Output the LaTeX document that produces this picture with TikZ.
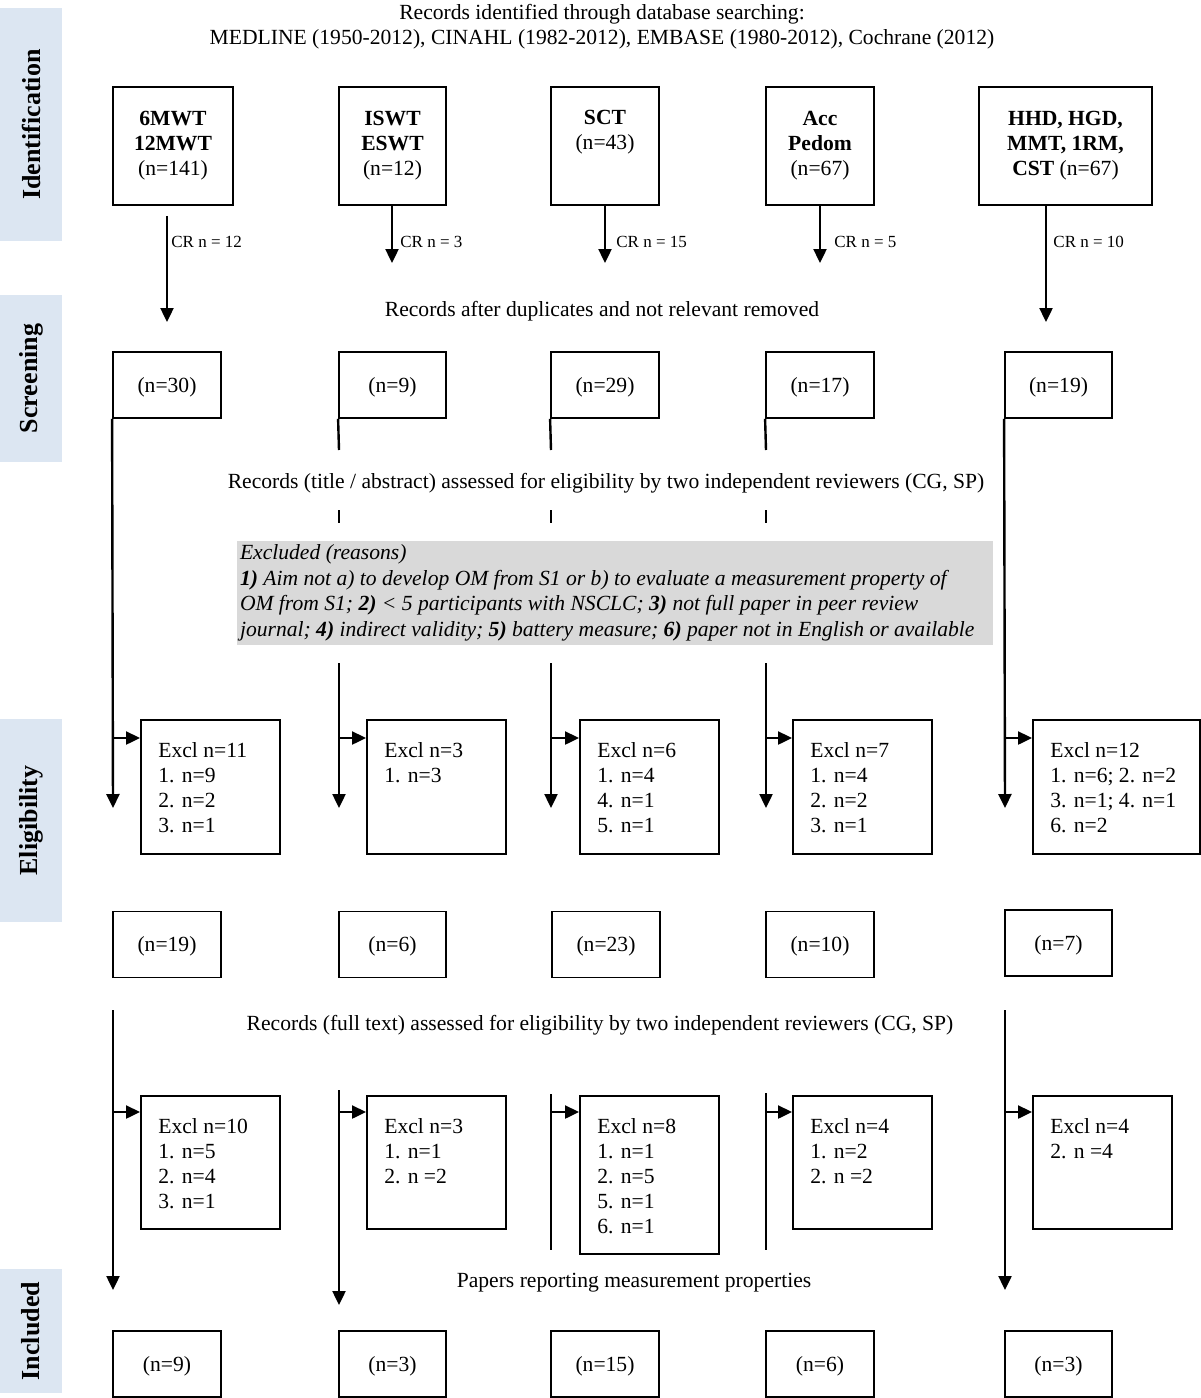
\documentclass[tikz,border=0pt]{standalone}
\usepackage{fontspec}
\setmainfont{Liberation Serif}
\usetikzlibrary{arrows.meta}
\definecolor{stageblue}{HTML}{DCE6F2}
\definecolor{reasongray}{HTML}{D9D9D9}
\begin{document}
\begin{tikzpicture}[x=0.5pt, y=-0.5pt,
    font=\fontsize{10.8}{12.5}\selectfont,
    >={Triangle[length=7pt, width=6.5pt]},
    stage/.style={fill=stageblue, rotate=90, minimum height=31pt, inner sep=0pt, font=\bfseries\fontsize{13}{15}\selectfont},
    box/.style={draw, line width=0.9pt, minimum height=33pt, inner sep=0pt, text height=9pt, text depth=1.8pt},
    tall/.style={draw, line width=0.9pt, minimum height=59pt, inner sep=0pt, align=center},
    excl/.style={draw, line width=0.9pt, anchor=north west, minimum width=69.5pt, minimum height=67pt, inner sep=0pt},
    excltext/.style={anchor=north west, align=left, inner sep=0pt},
    cr/.style={anchor=west, inner sep=0pt, font=\fontsize{8.5}{10}\selectfont},
    flow/.style={line width=1.2pt},
    arr/.style={flow, ->}]

    \useasboundingbox (0,0) rectangle (1200,1398);

    \node [stage, minimum width=116.5pt] (sid) at (31,124.5) {Identification};
    \node [stage, minimum width=83.5pt] (ssc) at (31,378.5) {Screening};
    \node [stage, minimum width=101.5pt] (sel) at (31,820.5) {Eligibility};
    \node [stage, minimum width=62pt] (sin) at (31,1331) {Included};

    \node [align=center] (search) at (602,26.5) {Records identified through database searching:\\MEDLINE (1950-2012), CINAHL (1982-2012), EMBASE (1980-2012), Cochrane (2012)};

    \node [tall, minimum width=60pt] (t1) at (173,146) {\textbf{6MWT}\\\textbf{12MWT}\\(n=141)};
    \node [tall, minimum width=53.5pt] (t2) at (392.5,146) {\textbf{ISWT}\\\textbf{ESWT}\\(n=12)};
    \node [tall, minimum width=54pt] (t3) at (605,146) {\textbf{SCT}\\(n=43)\\\strut};
    \node [tall, minimum width=54pt] (t4) at (820,146) {\textbf{Acc}\\\textbf{Pedom}\\(n=67)};
    \node [tall, minimum width=86.5pt] (t5) at (1065.5,146) {\textbf{HHD, HGD,}\\\textbf{MMT, 1RM,}\\\textbf{CST} (n=67)};

    \coordinate (c1) at (167,322);
    \coordinate (c2) at (392,263);
    \coordinate (c3) at (605,263);
    \coordinate (c4) at (820,263);
    \coordinate (c5) at (1046,322);
    \draw [arr, shorten <=5pt] (t1.south -| c1) -- (c1);
    \draw [arr] (t2.south -| c2) -- (c2);
    \draw [arr] (t3.south -| c3) -- (c3);
    \draw [arr] (t4.south -| c4) -- (c4);
    \draw [arr] (t5.south -| c5) -- (c5);

    \node [cr] (cr1) at (171,242) {CR n = 12};
    \node [cr] (cr2) at (400,242) {CR n = 3};
    \node [cr] (cr3) at (616,242) {CR n = 15};
    \node [cr] (cr4) at (834,242) {CR n = 5};
    \node [cr] (cr5) at (1053,242) {CR n = 10};

    \node (dup) at (602,311) {Records after duplicates and not relevant removed};

    \node [box, minimum width=54pt] (s1) at (167,385) {(n=30)};
    \node [box, minimum width=53.5pt] (s2) at (392.5,385) {(n=9)};
    \node [box, minimum width=54pt] (s3) at (605,385) {(n=29)};
    \node [box, minimum width=54pt] (s4) at (820,385) {(n=17)};
    \node [box, minimum width=53.5pt] (s5) at (1058.5,385) {(n=19)};

    \node (title) at (606,483) {Records (title / abstract) assessed for eligibility by two independent reviewers (CG, SP)};

    \node [fill=reasongray, text width=375pt, inner xsep=1.5pt, inner ysep=0.5pt, minimum height=52pt, align=flush left, font=\itshape\fontsize{10.8}{12.8}\selectfont] (reasons) at (615,593) {\mbox{Excluded (reasons)}\\\mbox{\textbf{1)} Aim not a) to develop OM from S1 or b) to evaluate a measurement property of}\\\mbox{OM from S1; \textbf{2)} < 5 participants with NSCLC; \textbf{3)} not full paper in peer review}\\\mbox{journal; \textbf{4)} indirect validity; \textbf{5)} battery measure; \textbf{6)} paper not in English or available}};

    \coordinate (v1) at (113,808);
    \coordinate (v2a) at (339,450);
    \coordinate (v2b) at (339,510);
    \coordinate (v2c) at (339,523);
    \coordinate (v2d) at (339,663);
    \coordinate (v2) at (339,808);
    \coordinate (v3a) at (551,450);
    \coordinate (v3b) at (551,510);
    \coordinate (v3c) at (551,523);
    \coordinate (v3d) at (551,663);
    \coordinate (v3) at (551,808);
    \coordinate (v4a) at (766,450);
    \coordinate (v4b) at (766,510);
    \coordinate (v4c) at (766,523);
    \coordinate (v4d) at (766,663);
    \coordinate (v4) at (766,808);
    \coordinate (v5) at (1005,808);

    \draw [arr] (s1.south west) -- (v1);
    \draw [flow] (s2.south west) -- (v2a);
    \draw [flow] (v2b) -- (v2c);
    \draw [arr] (v2d) -- (v2);
    \draw [flow] (s3.south west) -- (v3a);
    \draw [flow] (v3b) -- (v3c);
    \draw [arr] (v3d) -- (v3);
    \draw [flow] (s4.south west) -- (v4a);
    \draw [flow] (v4b) -- (v4c);
    \draw [arr] (v4d) -- (v4);
    \draw [arr] (s5.south west) -- (v5);

    \node [excl] (e1) at (140,719) {};
    \node [excl] (e2) at (366,719) {};
    \node [excl] (e3) at (579,719) {};
    \node [excl] (e4) at (792,719) {};
    \node [excl, minimum width=83.5pt] (e5) at (1032,719) {};
    \node [excltext] (e1t) at ([shift={(18,23)}]e1.north west) {Excl n=11\\1. n=9\\2. n=2\\3. n=1};
    \node [excltext] (e2t) at ([shift={(18,23)}]e2.north west) {Excl n=3\\1. n=3};
    \node [excltext] (e3t) at ([shift={(18,23)}]e3.north west) {Excl n=6\\1. n=4\\4. n=1\\5. n=1};
    \node [excltext] (e4t) at ([shift={(18,23)}]e4.north west) {Excl n=7\\1. n=4\\2. n=2\\3. n=1};
    \node [excltext] (e5t) at ([shift={(18,23)}]e5.north west) {Excl n=12\\1. n=6; 2. n=2\\3. n=1; 4. n=1\\6. n=2};

    \coordinate (h1) at (113,738);
    \coordinate (h2) at (339,738);
    \coordinate (h3) at (551,738);
    \coordinate (h4) at (766,738);
    \coordinate (h5) at (1005,738);
    \draw [arr] (h1) -- (h1 -| e1.west);
    \draw [arr] (h2) -- (h2 -| e2.west);
    \draw [arr] (h3) -- (h3 -| e3.west);
    \draw [arr] (h4) -- (h4 -| e4.west);
    \draw [arr] (h5) -- (h5 -| e5.west);

    \node [box, minimum width=54pt] (f1) at (167,944.5) {(n=19)};
    \node [box, minimum width=53.5pt] (f2) at (392.5,944.5) {(n=6)};
    \node [box, minimum width=54pt] (f3) at (606,944.5) {(n=23)};
    \node [box, minimum width=54pt] (f4) at (820,944.5) {(n=10)};
    \node [box, minimum width=53.5pt] (f5) at (1058.5,943) {(n=7)};

    \node (full) at (600,1025) {Records (full text) assessed for eligibility by two independent reviewers (CG, SP)};

    \coordinate (w1a) at (113,1010);
    \coordinate (w1) at (113,1290);
    \coordinate (w2a) at (339,1090);
    \coordinate (w2) at (339,1305);
    \coordinate (w3a) at (551,1094);
    \coordinate (w3) at (551,1250);
    \coordinate (w4a) at (766,1093);
    \coordinate (w4) at (766,1250);
    \coordinate (w5a) at (1005,1010);
    \coordinate (w5) at (1005,1290);
    \draw [arr] (w1a) -- (w1);
    \draw [arr] (w2a) -- (w2);
    \draw [flow] (w3a) -- (w3);
    \draw [flow] (w4a) -- (w4);
    \draw [arr] (w5a) -- (w5);

    \node [excl, minimum height=66.5pt] (g1) at (140,1095) {};
    \node [excl, minimum height=66.5pt] (g2) at (366,1095) {};
    \node [excl, minimum height=79pt] (g3) at (579,1095) {};
    \node [excl, minimum height=66.5pt] (g4) at (792,1095) {};
    \node [excl, minimum height=66.5pt] (g5) at (1032,1095) {};
    \node [excltext] (g1t) at ([shift={(18,23)}]g1.north west) {Excl n=10\\1. n=5\\2. n=4\\3. n=1};
    \node [excltext] (g2t) at ([shift={(18,23)}]g2.north west) {Excl n=3\\1. n=1\\2. n =2};
    \node [excltext] (g3t) at ([shift={(18,23)}]g3.north west) {Excl n=8\\1. n=1\\2. n=5\\5. n=1\\6. n=1};
    \node [excltext] (g4t) at ([shift={(18,23)}]g4.north west) {Excl n=4\\1. n=2\\2. n =2};
    \node [excltext] (g5t) at ([shift={(18,23)}]g5.north west) {Excl n=4\\2. n =4};

    \coordinate (k1) at (113,1112);
    \coordinate (k2) at (339,1112);
    \coordinate (k3) at (551,1112);
    \coordinate (k4) at (766,1112);
    \coordinate (k5) at (1005,1112);
    \draw [arr] (k1) -- (k1 -| g1.west);
    \draw [arr] (k2) -- (k2 -| g2.west);
    \draw [arr] (k3) -- (k3 -| g3.west);
    \draw [arr] (k4) -- (k4 -| g4.west);
    \draw [arr] (k5) -- (k5 -| g5.west);

    \node (papers) at (634,1283) {Papers reporting measurement properties};

    \node [box, minimum width=54pt] (i1) at (167,1364) {(n=9)};
    \node [box, minimum width=53.5pt] (i2) at (392.5,1364) {(n=3)};
    \node [box, minimum width=54pt] (i3) at (605,1364) {(n=15)};
    \node [box, minimum width=54pt] (i4) at (820,1364) {(n=6)};
    \node [box, minimum width=53.5pt] (i5) at (1058.5,1364) {(n=3)};

\end{tikzpicture}
\end{document}
